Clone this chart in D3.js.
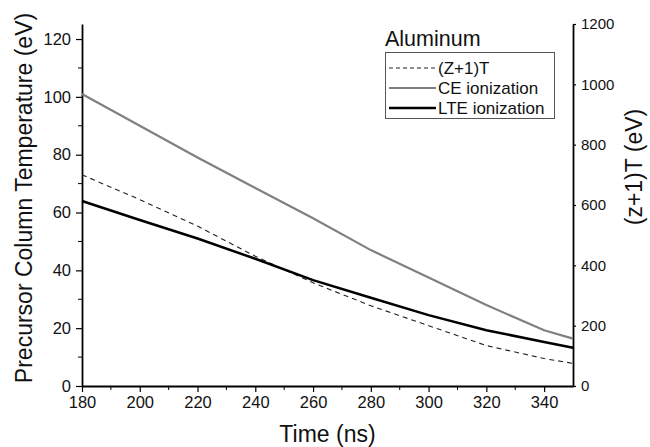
<!DOCTYPE html>
<html>
<head>
<meta charset="utf-8">
<script src="https://cdn.jsdelivr.net/npm/d3@7"></script>
<style>
  body { margin: 0; background: #fff; }
  text { font-family: "Liberation Sans", Arial, sans-serif; fill: #111; }
</style>
</head>
<body>
<div class="chart"></div>
<script>
// data
const times = [180, 200, 220, 240, 260, 280, 300, 320, 340, 350];
const ceIonization = [101, 90, 79, 68.5, 58, 47, 37.5, 28, 19.3, 16.4];
const lteIonization = [64, 57.4, 51, 44, 36.6, 30.5, 24.5, 19.3, 15.2, 13.2];
const zPlus1T = [700, 618, 530, 430, 342, 266, 200, 134, 91, 75]; // right axis
const xTicks = [180, 200, 220, 240, 260, 280, 300, 320, 340];
const leftTicks = [0, 20, 40, 60, 80, 100, 120];
const rightTicks = [0, 200, 400, 600, 800, 1000, 1200];

const width = 650, height = 447;
const margin = {top: 24, right: 77, bottom: 61, left: 82};

const svg = d3.select('.chart').append('svg')
    .attr('width', width)
    .attr('height', height);

const x = d3.scaleLinear().domain([180, 350]).range([margin.left, width - margin.right]);
const yL = d3.scaleLinear().domain([0, 125.2]).range([height - margin.bottom, margin.top]);
const yR = d3.scaleLinear().domain([0, 1200]).range([height - margin.bottom, margin.top]);

// minor ticks
const xMinor = d3.range(190, 350, 20);
const yMinor = d3.range(10, 125, 20);

// x axis
const gx = svg.append('g')
    .attr('transform', 'translate(0,' + (height - margin.bottom) + ')')
    .call(d3.axisBottom(x).tickValues(xTicks).tickSizeInner(6).tickSizeOuter(0).tickPadding(4));
gx.append('g').selectAll('line').data(xMinor).enter().append('line')
    .attr('x1', d => x(d)).attr('x2', d => x(d))
    .attr('y1', 0).attr('y2', 4)
    .attr('stroke', '#000');

// left axis
const gl = svg.append('g')
    .attr('transform', 'translate(' + margin.left + ',0)')
    .call(d3.axisLeft(yL).tickValues(leftTicks).tickSizeInner(6).tickSizeOuter(0).tickPadding(5));
gl.append('g').selectAll('line').data(yMinor).enter().append('line')
    .attr('y1', d => yL(d)).attr('y2', d => yL(d))
    .attr('x1', 0).attr('x2', -4)
    .attr('stroke', '#000');

// right axis
const gr = svg.append('g')
    .attr('transform', 'translate(' + (width - margin.right) + ',0)')
    .call(d3.axisRight(yR).tickValues(rightTicks).tickFormat(d3.format('d'))
        .tickSizeInner(3).tickSizeOuter(0).tickPadding(5));

[gx, gl].forEach(g => g.selectAll('text').style('font-size', '16.5px'));
gr.selectAll('text').style('font-size', '15px');
[gx, gl, gr].forEach(g => {
    g.select('.domain').attr('stroke-width', 1.8);
    g.selectAll('.tick line').attr('stroke-width', 1.2);
    g.selectAll('text').attr('fill', '#111');
});

// lines
const lineL = d3.line().x((d, i) => x(times[i])).y(d => yL(d));
const lineR = d3.line().x((d, i) => x(times[i])).y(d => yR(d));

svg.append('path').datum(zPlus1T)
    .attr('d', lineR)
    .attr('fill', 'none').attr('stroke', '#222')
    .attr('stroke-width', 1.1).attr('stroke-dasharray', '5,4');
svg.append('path').datum(ceIonization)
    .attr('d', lineL)
    .attr('fill', 'none').attr('stroke', '#808080').attr('stroke-width', 2.2);
svg.append('path').datum(lteIonization)
    .attr('d', lineL)
    .attr('fill', 'none').attr('stroke', '#000').attr('stroke-width', 2.5);

// axis titles
svg.append('text')
    .attr('transform', 'translate(32,' + 198 + ') rotate(-90)')
    .attr('text-anchor', 'middle')
    .style('font-size', '23px')
    .text('Precursor Column Temperature (eV)');
svg.append('text')
    .attr('transform', 'translate(642,' + 167 + ') rotate(-90)')
    .attr('text-anchor', 'middle')
    .style('font-size', '23px')
    .text('(z+1)T (eV)');
svg.append('text')
    .attr('x', (margin.left + width - margin.right) / 2)
    .attr('y', 442)
    .attr('text-anchor', 'middle')
    .style('font-size', '23px')
    .text('Time (ns)');

// legend
const legendItems = [
    {name: '(Z+1)T', color: '#222', w: 1.1, dash: '4,3'},
    {name: 'CE ionization', color: '#808080', w: 2.2, dash: null},
    {name: 'LTE ionization', color: '#000', w: 2.5, dash: null}
];
svg.append('text')
    .attr('x', 385).attr('y', 46)
    .style('font-size', '21.5px')
    .text('Aluminum');
svg.append('rect')
    .attr('x', 385.5).attr('y', 52.5)
    .attr('width', 169).attr('height', 66)
    .attr('fill', 'none').attr('stroke', '#555').attr('stroke-width', 1);
const lg = svg.append('g').selectAll('g').data(legendItems).enter().append('g')
    .attr('transform', (d, i) => 'translate(0,' + (68 + i * 20) + ')');
lg.append('line')
    .attr('x1', 389).attr('x2', 436)
    .attr('stroke', d => d.color).attr('stroke-width', d => d.w)
    .attr('stroke-dasharray', d => d.dash);
lg.append('text')
    .attr('x', 438).attr('y', 6)
    .style('font-size', '17px')
    .text(d => d.name);
</script>
</body>
</html>
